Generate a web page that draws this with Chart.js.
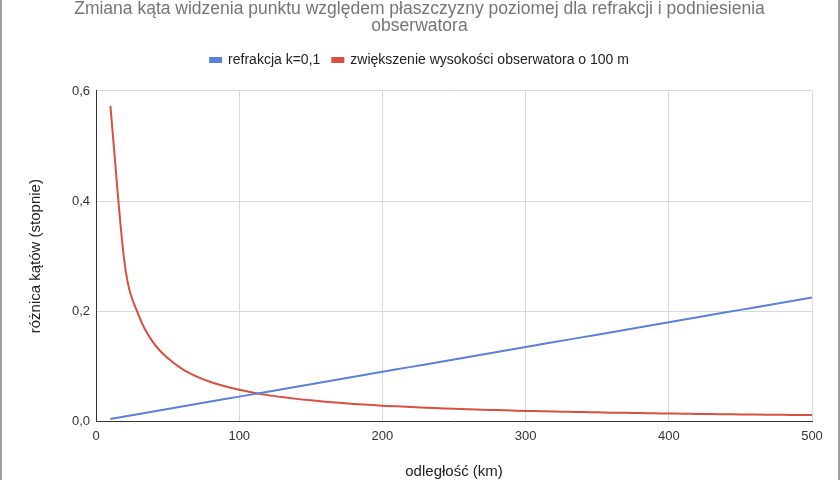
<!DOCTYPE html>
<html>
<head>
<meta charset="utf-8">
<script src="https://cdn.jsdelivr.net/npm/chart.js@4/dist/chart.umd.min.js"></script>
<style>
  body { margin: 0; background: #fff; }
  #wrap { position: relative; width: 840px; height: 480px; overflow: hidden; box-sizing: border-box; border-left: 2px solid #9e9e9e; border-right: 2px solid #9e9e9e; }
  #box { position: absolute; left: 0; top: -6px; width: 836px; height: 487px; }
</style>
</head>
<body>
<div id="wrap"><div id="box"><canvas id="chart"></canvas></div></div>
<script>
// odległość (km)
const distances = [10, 20, 30, 40, 50, 60, 70, 80, 90, 100,
  110, 120, 130, 140, 150, 160, 170, 180, 190, 200,
  210, 220, 230, 240, 250, 260, 270, 280, 290, 300,
  310, 320, 330, 340, 350, 360, 370, 380, 390, 400,
  410, 420, 430, 440, 450, 460, 470, 480, 490, 500];

// refrakcja k=0,1
const refraction = [0.0045, 0.009, 0.0135, 0.018, 0.0225, 0.027, 0.0315, 0.036, 0.0405, 0.045,
  0.0495, 0.054, 0.0585, 0.063, 0.0675, 0.072, 0.0765, 0.081, 0.0855, 0.09,
  0.0945, 0.099, 0.1035, 0.108, 0.1125, 0.117, 0.1215, 0.126, 0.1305, 0.135,
  0.1395, 0.144, 0.1485, 0.153, 0.1575, 0.162, 0.1665, 0.171, 0.1755, 0.18,
  0.1845, 0.189, 0.1935, 0.198, 0.2025, 0.207, 0.2115, 0.216, 0.2205, 0.225];

// zwiększenie wysokości obserwatora o 100 m
const elevation = [0.573, 0.286, 0.191, 0.143, 0.115, 0.0955, 0.0819, 0.0716, 0.0637, 0.0573,
  0.0521, 0.0477, 0.0441, 0.0409, 0.0382, 0.0358, 0.0337, 0.0318, 0.0302, 0.0286,
  0.0273, 0.026, 0.0249, 0.0239, 0.0229, 0.022, 0.0212, 0.0205, 0.0198, 0.0191,
  0.0185, 0.0179, 0.0174, 0.0169, 0.0164, 0.0159, 0.0155, 0.0151, 0.0147, 0.0143,
  0.014, 0.0136, 0.0133, 0.013, 0.0127, 0.0125, 0.0122, 0.0119, 0.0117, 0.0115];

const seriesNames = ["refrakcja k=0,1", "zwiększenie wysokości obserwatora o 100 m"];
const titleLines = ["Zmiana kąta widzenia punktu względem płaszczyzny poziomej dla refrakcji i podniesienia", "obserwatora"];

const FONT = "'Liberation Sans', Arial, sans-serif";

const toPoints = vals => vals.map((v, i) => ({ x: distances[i], y: v }));

// extra gap between legend and plot
const legendGap = {
  id: "legendGap",
  beforeInit(chart) {
    const fit = chart.legend.fit;
    chart.legend.fit = function () {
      fit.bind(chart.legend)();
      this.height += 14;
    };
  }
};

new Chart(document.getElementById("chart"), {
  type: "line",
  data: {
    datasets: [
      {
        label: seriesNames[0],
        data: toPoints(refraction),
        borderColor: "#5b80dc",
        backgroundColor: "#5b80dc",
        borderWidth: 2,
        pointRadius: 0,
        tension: 0
      },
      {
        label: seriesNames[1],
        data: toPoints(elevation),
        borderColor: "#d8503f",
        backgroundColor: "#d8503f",
        borderWidth: 2,
        pointRadius: 0,
        cubicInterpolationMode: "monotone"
      }
    ]
  },
  plugins: [legendGap],
  options: {
    responsive: true,
    maintainAspectRatio: false,
    animation: false,
    layout: { padding: { left: 25, right: 26, top: 0, bottom: 0 } },
    plugins: {
      title: {
        display: true,
        text: titleLines,
        color: "#757575",
        font: { family: FONT, size: 17.5, weight: "normal", lineHeight: 0.97 },
        padding: { top: 7, bottom: 6 }
      },
      legend: {
        display: true,
        labels: {
          color: "#222",
          font: { family: FONT, size: 14 },
          boxWidth: 11,
          boxHeight: 4,
          padding: 12
        }
      },
      tooltip: { enabled: false }
    },
    scales: {
      x: {
        type: "linear",
        min: 0,
        max: 500,
        ticks: { stepSize: 100, color: "#333", font: { family: FONT, size: 13 }, padding: 7 },
        grid: { color: "#d9d9d9", drawTicks: false },
        border: { color: "#333", width: 1 },
        title: { display: true, text: "odległość (km)", color: "#222", font: { family: FONT, size: 15 }, padding: { top: 12, bottom: 0 } }
      },
      y: {
        min: 0,
        max: 0.6,
        ticks: {
          stepSize: 0.2,
          color: "#333",
          font: { family: FONT, size: 13 },
          padding: 6,
          callback: v => v.toFixed(1).replace(".", ",")
        },
        grid: { color: "#d9d9d9", drawTicks: false },
        border: { color: "#333", width: 1 },
        title: { display: true, text: "różnica kątów (stopnie)", color: "#222", font: { family: FONT, size: 15 }, padding: { top: 0, bottom: 21 } }
      }
    }
  }
});
</script>
</body>
</html>
